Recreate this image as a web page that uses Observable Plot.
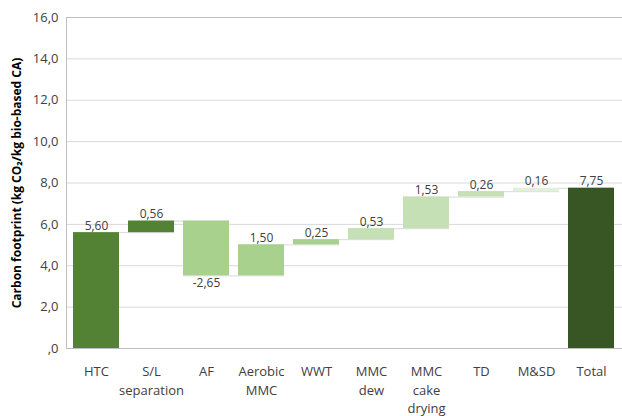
<!DOCTYPE html>
<html>
<head>
<meta charset="utf-8">
<script src="https://cdn.jsdelivr.net/npm/d3@7"></script>
<script src="https://cdn.jsdelivr.net/npm/@observablehq/plot@0.6"></script>
<style>
  html, body { margin: 0; padding: 0; background: #fff; }
  #chart svg { display: block; }
</style>
</head>
<body>
<div id="chart"></div>
<script>
const categories = ["HTC", "S/L\nseparation", "AF", "Aerobic\nMMC", "WWT", "MMC\ndew", "MMC\ncake\ndrying", "TD", "M&SD", "Total"];
const values = [5.60, 0.56, -2.65, 1.50, 0.25, 0.53, 1.53, 0.26, 0.16, 7.75];
const colors = ["#548235", "#548235", "#a9d18e", "#a9d18e", "#a9d18e", "#c5e0b4", "#c5e0b4", "#c5e0b4", "#e2f0d9", "#375623"];
const yTicks = [0, 2, 4, 6, 8, 10, 12, 14, 16];
const yLabel = "Carbon footprint (kg CO\u2082/kg bio-based CA)";

// waterfall table
let cum = 0;
const rows = categories.map((c, i) => {
  const isTotal = i === categories.length - 1;
  const start = isTotal ? 0 : cum;
  const end = isTotal ? values[i] : cum + values[i];
  if (!isTotal) cum = end;
  return {cat: c, value: values[i], start, end, color: colors[i]};
});
const links = rows.slice(0, -1).map((r, i) => ({a: r.cat, b: rows[i + 1].cat, y: r.end}));

const fmt = (v, n) => {
  const s = Math.abs(v).toFixed(n).replace(".", ",");
  return (v < 0 ? "-" : "") + s;
};

const chart = Plot.plot({
  width: 622,
  height: 416,
  marginLeft: 66,
  marginRight: 0,
  marginTop: 17,
  marginBottom: 68,
  style: {fontFamily: "'Open Sans', sans-serif", background: "#fff"},
  x: {domain: categories, paddingInner: 0.16, paddingOuter: 0.07, label: null},
  y: {domain: [0, 16], label: null},
  marks: [
    Plot.gridY(yTicks, {stroke: "#d9d9d9", strokeOpacity: 1}),
    Plot.frame({stroke: "#bfbfbf"}),
    Plot.ruleY(links, {x1: "a", x2: "b", y: "y", stroke: "#d9d9d9", strokeWidth: 1}),
    Plot.barY(rows, {x: "cat", y1: "start", y2: "end", fill: "color"}),
    Plot.text(rows.filter(d => d.value >= 0), {
      x: "cat", y: "end", text: d => fmt(d.value, 2),
      lineAnchor: "bottom", dy: -3, fontSize: 12, fill: "#404040"
    }),
    Plot.text(rows.filter(d => d.value < 0), {
      x: "cat", y: "end", text: d => fmt(d.value, 2),
      lineAnchor: "top", dy: 3, fontSize: 12, fill: "#404040"
    }),
    Plot.axisY(yTicks, {
      tickSize: 0, tickPadding: 8, fontSize: 13, fill: "#404040", label: null,
      tickFormat: d => d === 0 ? ",0" : fmt(d, 1)
    }),
    Plot.axisX({
      tickSize: 0, tickPadding: 15, fontSize: 13, fill: "#404040", label: null, lineHeight: 1.4
    }),
    Plot.text([0], {
      frameAnchor: "left", dx: -49, rotate: -90, text: () => yLabel,
      textAnchor: "middle", fontWeight: "bold", fontSize: 12, fill: "#000"
    })
  ]
});
document.getElementById("chart").appendChild(chart);
</script>
</body>
</html>
